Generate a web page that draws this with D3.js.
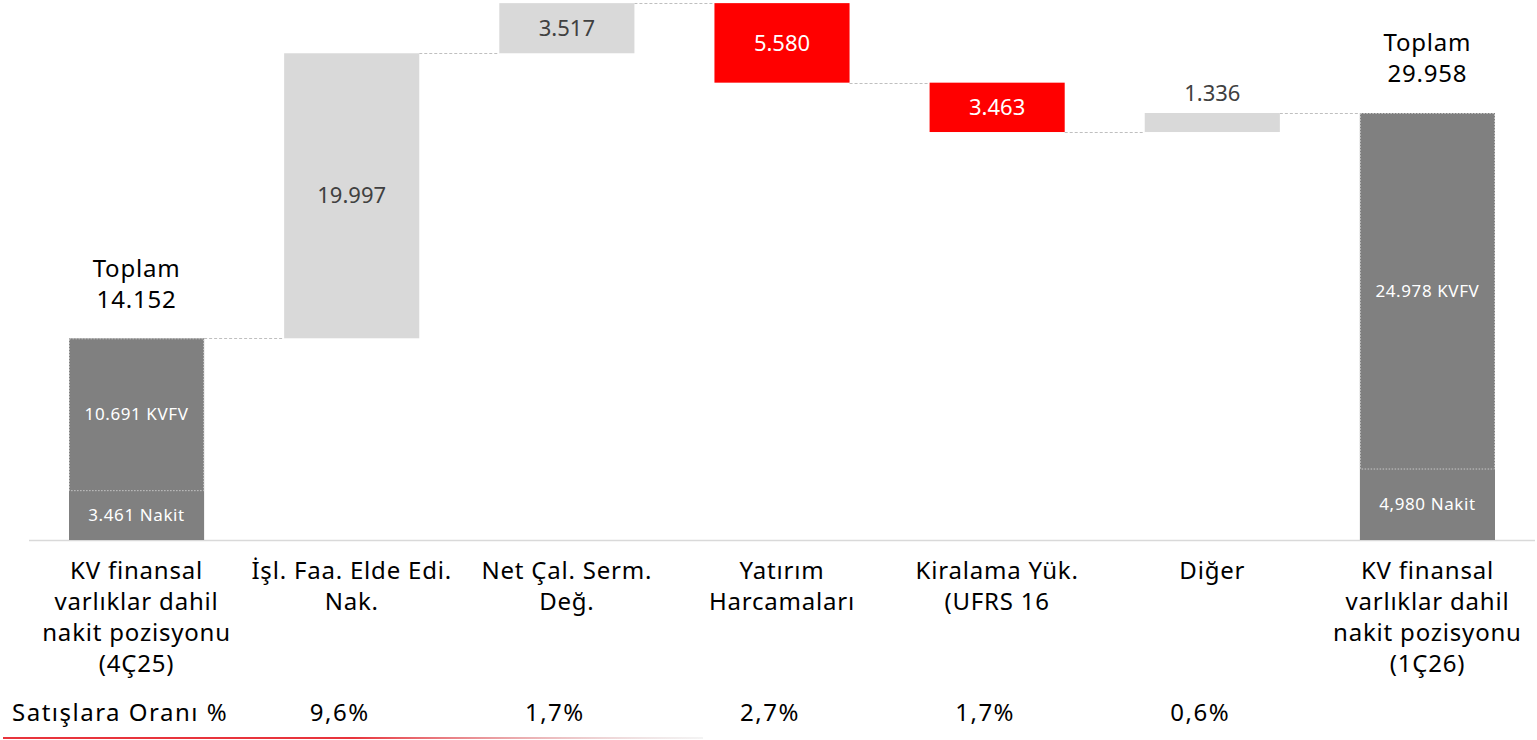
<!DOCTYPE html>
<html>
<head>
<meta charset="utf-8">
<script src="https://cdn.jsdelivr.net/npm/d3@7"></script>
<style>
  html, body { margin: 0; padding: 0; background: #fff; }
  svg { display: block; font-family: 'Noto Sans', sans-serif; }
  .big { font-size: 24px; letter-spacing: 0.8px; }
  .ratio { font-size: 24px; letter-spacing: 1.5px; }
</style>
</head>
<body>
<svg id="chart" width="1537" height="740"></svg>
<script>
'use strict';

// waterfall data (TL mn)
let categories = [
    ['KV finansal', 'varlıklar dahil', 'nakit pozisyonu', '(4Ç25)'],
    ['İşl. Faa. Elde Edi.', 'Nak.'],
    ['Net Çal. Serm.', 'Değ.'],
    ['Yatırım', 'Harcamaları'],
    ['Kiralama Yük.', '(UFRS 16'],
    ['Diğer'],
    ['KV finansal', 'varlıklar dahil', 'nakit pozisyonu', '(1Ç26)']
];
let kinds = ['total', 'up', 'up', 'down', 'down', 'up', 'total'];
let values = [14152, 19997, 3517, 5580, 3463, 1336, 29958];
let valueLabels = ['14.152', '19.997', '3.517', '5.580', '3.463', '1.336', '29.958'];
let cashValues = [3461, null, null, null, null, null, 4980];
let cashLabels = ['3.461 Nakit', '', '', '', '', '', '4,980 Nakit'];
let kvfvLabels = ['10.691 KVFV', '', '', '', '', '', '24.978 KVFV'];
let ratioTitle = 'Satışlara Oranı %';
let ratios = ['', '9,6%', '1,7%', '2,7%', '1,7%', '0,6%', ''];

let colors = {total: '#808080', up: '#d9d9d9', down: '#ff0000'};

let svg = d3.select('#chart');

let x = d3.scaleBand()
    .domain(d3.range(categories.length))
    .range([69, 1495])
    .paddingInner(0.372)
    .paddingOuter(0);

let y = d3.scaleLinear()
    .domain([0, 29958])
    .range([540, 113]);

// running totals -> start/end of each step
let running = 0;
let steps = values.map(function(v, i) {
    let start, end;
    if (kinds[i] === 'total') {
        start = 0;
        end = v;
        running = v;
    } else if (kinds[i] === 'up') {
        start = running;
        end = running + v;
        running = end;
    } else {
        start = running;
        end = running - v;
        running = end;
    }
    return {i: i, kind: kinds[i], start: start, end: end, label: valueLabels[i]};
});

// gradient for bottom rule
let defs = svg.append('defs');
let grad = defs.append('linearGradient')
    .attr('id', 'redfade')
    .attr('x1', '0%').attr('x2', '100%');
grad.append('stop').attr('offset', '0%').attr('stop-color', '#e8343c');
grad.append('stop').attr('offset', '50%').attr('stop-color', '#e8343c');
grad.append('stop').attr('offset', '100%').attr('stop-color', '#d9d9d9').attr('stop-opacity', 0.3);

// baseline
svg.append('line')
    .attr('x1', 29).attr('x2', 1535)
    .attr('y1', y(0) + 0.5).attr('y2', y(0) + 0.5)
    .attr('stroke', '#d9d9d9')
    .attr('stroke-width', 1.5);

// connectors
let connectors = steps.slice(0, -1).map(function(d, i) {
    return {x1: x(i) + x.bandwidth(), x2: x(i + 1), level: d.end};
});
svg.append('g')
    .selectAll('line')
    .data(connectors)
    .enter().append('line')
    .attr('x1', function(d) { return d.x1; })
    .attr('x2', function(d) { return d.x2; })
    .attr('y1', function(d) { return Math.round(y(d.level)) + 0.5; })
    .attr('y2', function(d) { return Math.round(y(d.level)) + 0.5; })
    .attr('stroke', '#bfbfbf')
    .attr('stroke-width', 1)
    .attr('stroke-dasharray', '3,2');

// bars
svg.append('g')
    .selectAll('rect')
    .data(steps)
    .enter().append('rect')
    .attr('x', function(d) { return x(d.i); })
    .attr('width', x.bandwidth())
    .attr('y', function(d) { return y(Math.max(d.start, d.end)); })
    .attr('height', function(d) { return Math.abs(y(d.start) - y(d.end)); })
    .attr('fill', function(d) { return colors[d.kind]; });

// dotted outline of the KVFV part of total bars
let totals = steps.filter(function(d) { return d.kind === 'total'; });
svg.append('g')
    .selectAll('rect')
    .data(totals)
    .enter().append('rect')
    .attr('x', function(d) { return x(d.i) + 0.5; })
    .attr('width', x.bandwidth() - 1)
    .attr('y', function(d) { return y(d.end) + 0.5; })
    .attr('height', function(d) { return y(cashValues[d.i]) - y(d.end) - 0.5; })
    .attr('fill', 'none')
    .attr('stroke', '#c8c8c8')
    .attr('stroke-width', 1)
    .attr('stroke-dasharray', '1.5,1.5');

// labels inside total bars
let inner = svg.append('g')
    .attr('fill', '#fff')
    .attr('font-size', 17)
    .attr('letter-spacing', 0.6)
    .attr('text-anchor', 'middle');
totals.forEach(function(d) {
    let cx = x(d.i) + x.bandwidth() / 2;
    let cash = cashValues[d.i];
    inner.append('text')
        .attr('x', cx)
        .attr('y', (y(cash) + y(d.end)) / 2)
        .attr('dy', '0.35em')
        .text(kvfvLabels[d.i]);
    inner.append('text')
        .attr('x', cx)
        .attr('y', (y(0) + y(cash)) / 2)
        .attr('dy', '0.35em')
        .text(cashLabels[d.i]);
});

// totals above bars
totals.forEach(function(d) {
    let cx = x(d.i) + x.bandwidth() / 2;
    let t = svg.append('text')
        .attr('class', 'big')
        .attr('x', cx)
        .attr('y', y(d.end) - 70)
        .attr('text-anchor', 'middle')
        .attr('fill', '#000');
    t.append('tspan').attr('x', cx).attr('dy', '0.35em').text('Toplam');
    t.append('tspan').attr('x', cx).attr('dy', 31).text(d.label);
});

// step value labels
let deltas = steps.filter(function(d) { return d.kind !== 'total'; });
svg.append('g')
    .selectAll('text')
    .data(deltas)
    .enter().append('text')
    .attr('x', function(d) { return x(d.i) + x.bandwidth() / 2; })
    .attr('y', function(d) {
        let h = Math.abs(y(d.start) - y(d.end));
        if (h < 30) {
            return y(Math.max(d.start, d.end)) - 20;
        }
        return (y(d.start) + y(d.end)) / 2;
    })
    .attr('dy', '0.35em')
    .attr('text-anchor', 'middle')
    .attr('font-size', 22)
    .attr('fill', function(d) { return d.kind === 'down' ? '#fff' : '#404040'; })
    .text(function(d) { return d.label; });

// category labels
let catG = svg.append('g')
    .attr('class', 'big')
    .attr('fill', '#000')
    .attr('text-anchor', 'middle');
categories.forEach(function(lines, i) {
    let cx = x(i) + x.bandwidth() / 2;
    let t = catG.append('text')
        .attr('x', cx)
        .attr('y', 571);
    lines.forEach(function(line, j) {
        t.append('tspan')
            .attr('x', cx)
            .attr('dy', j === 0 ? '0.35em' : 31)
            .text(line);
    });
});

// ratio row
svg.append('text')
    .attr('class', 'ratio')
    .attr('x', 12)
    .attr('y', 713)
    .attr('dy', '0.35em')
    .attr('fill', '#000')
    .text(ratioTitle);
svg.append('g')
    .attr('class', 'ratio')
    .selectAll('text')
    .data(ratios)
    .enter().append('text')
    .attr('x', function(d, i) { return x(i) + x.bandwidth() / 2 - 12; })
    .attr('y', 713)
    .attr('dy', '0.35em')
    .attr('text-anchor', 'middle')
    .attr('fill', '#000')
    .text(function(d) { return d; });

// bottom red rule
svg.append('rect')
    .attr('x', 3)
    .attr('y', 737)
    .attr('width', 700)
    .attr('height', 2)
    .attr('fill', 'url(#redfade)');
</script>
</body>
</html>
